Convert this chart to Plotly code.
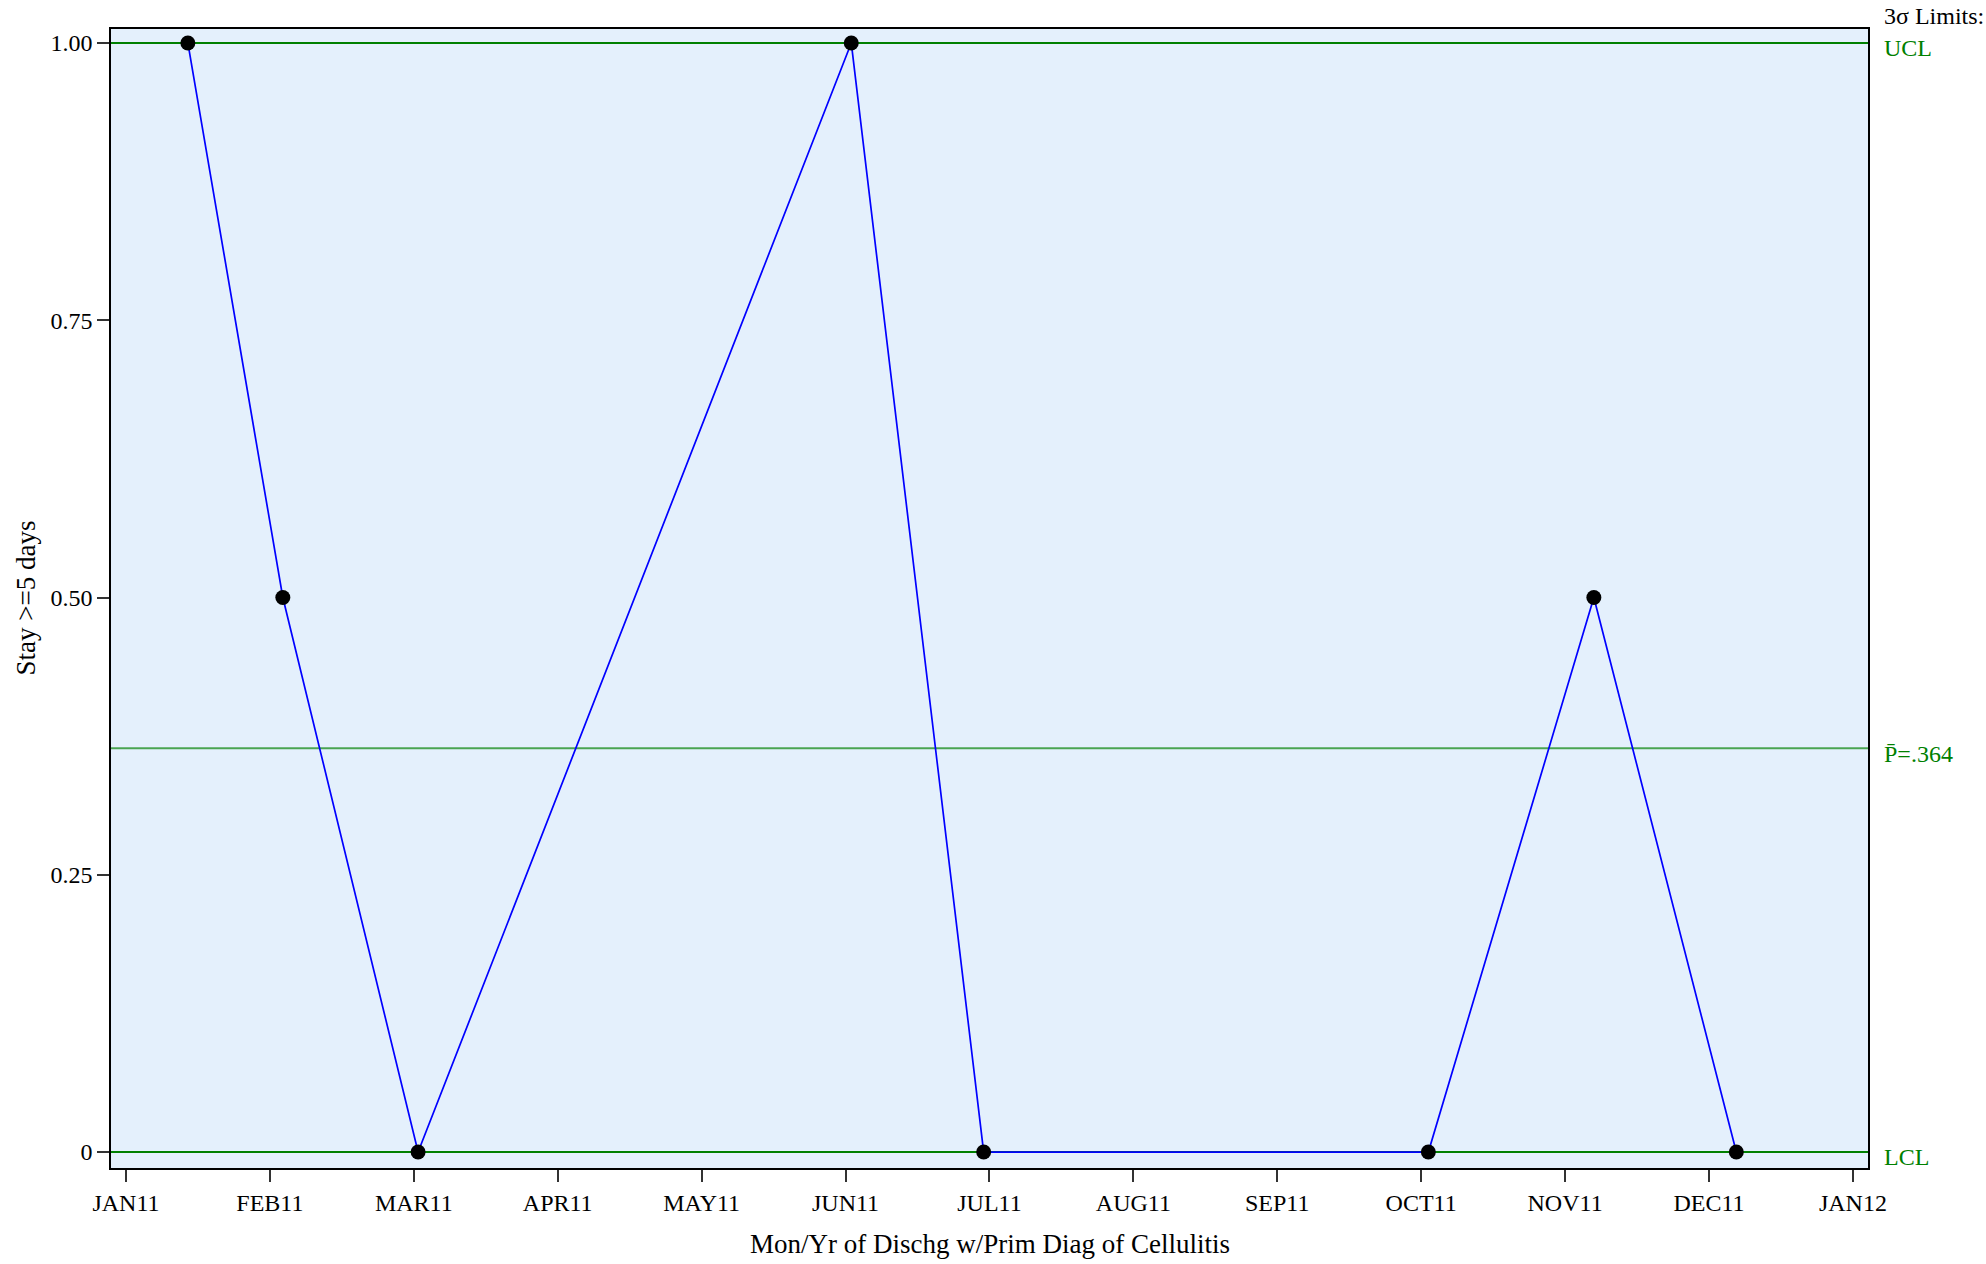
import plotly.graph_objects as go

# ---- data ----
tick_labels = ["JAN11", "FEB11", "MAR11", "APR11", "MAY11", "JUN11", "JUL11",
               "AUG11", "SEP11", "OCT11", "NOV11", "DEC11", "JAN12"]
# positions in months since JAN11 (JAN11 = 0)
month_pos = [0.43, 1.09, 2.03, 5.04, 5.96, 9.05, 10.20, 11.19]
proportion = [1.0, 0.5, 0.0, 1.0, 0.0, 0.0, 0.5, 0.0]
ucl = 1.0
center = 0.364
lcl = 0.0
y_ticks = [0, 0.25, 0.5, 0.75, 1.0]
y_tick_text = ["0", "0.25", "0.50", "0.75", "1.00"]
x_title = "Mon/Yr of Dischg w/Prim Diag of Cellulitis"
y_title = "Stay >=5 days"

FONT = "Liberation Serif, Times New Roman, serif"
GREEN = "#008000"

fig = go.Figure()
fig.add_trace(go.Scatter(
    x=month_pos, y=proportion, mode="lines+markers",
    line=dict(color="#0000FF", width=1.7),
    marker=dict(color="black", size=15),
    showlegend=False, hoverinfo="skip",
))

for val, col in [(ucl, GREEN), (lcl, GREEN), (center, "rgba(0,128,0,0.68)")]:
    fig.add_shape(type="line", xref="paper", x0=0, x1=1, yref="y", y0=val, y1=val,
                  line=dict(color=col, width=2), layer="below")

anns = [
    dict(text="3σ Limits:", y=1, yref="paper", yshift=13, color="black"),
    dict(text="UCL", y=ucl, yref="y", yshift=-5, color=GREEN),
    dict(text="P̄=.364", y=center, yref="y", yshift=-6, color=GREEN),
    dict(text="LCL", y=lcl, yref="y", yshift=-5, color=GREEN),
]
for a in anns:
    fig.add_annotation(x=1, xref="paper", xanchor="left", xshift=14,
                       y=a["y"], yref=a["yref"], yanchor="middle", yshift=a["yshift"],
                       text=a["text"], showarrow=False,
                       font=dict(family=FONT, size=24, color=a["color"]))

# axis titles
fig.add_annotation(x=0.5, xref="paper", y=0, yref="paper", yanchor="middle", yshift=-76,
                   text=x_title, showarrow=False,
                   font=dict(family=FONT, size=27, color="black"))
fig.add_annotation(x=0, xref="paper", xanchor="center", xshift=-86, y=0.5, yref="paper",
                   yanchor="middle", text=y_title, textangle=-90, showarrow=False,
                   font=dict(family=FONT, size=27, color="black"))

fig.update_layout(
    width=1986, height=1264,
    margin=dict(l=111, r=118, t=29, b=96),
    paper_bgcolor="white",
    plot_bgcolor="#E4F0FC",
    font=dict(family=FONT, size=24, color="black"),
    showlegend=False,
)
fig.update_xaxes(
    range=[-0.104, 12.105], automargin=False,
    tickmode="array", tickvals=list(range(len(tick_labels))), ticktext=tick_labels,
    ticks="outside", ticklen=12, tickwidth=1.5, tickcolor="#333",
    showgrid=False, zeroline=False,
    showline=True, linecolor="black", linewidth=1.6, mirror=True,
    tickfont=dict(family=FONT, size=24),
)
fig.update_yaxes(
    range=[-0.0144, 1.0126], automargin=False,
    tickmode="array", tickvals=y_ticks, ticktext=y_tick_text,
    ticks="outside", ticklen=12, tickwidth=1.5, tickcolor="#333",
    showgrid=False, zeroline=False,
    showline=True, linecolor="black", linewidth=1.6, mirror=True,
    tickfont=dict(family=FONT, size=24),
)

fig.write_html("out.html", config={"displayModeBar": False},
               post_script="document.body.style.margin='0px';document.body.style.padding='0px';")
